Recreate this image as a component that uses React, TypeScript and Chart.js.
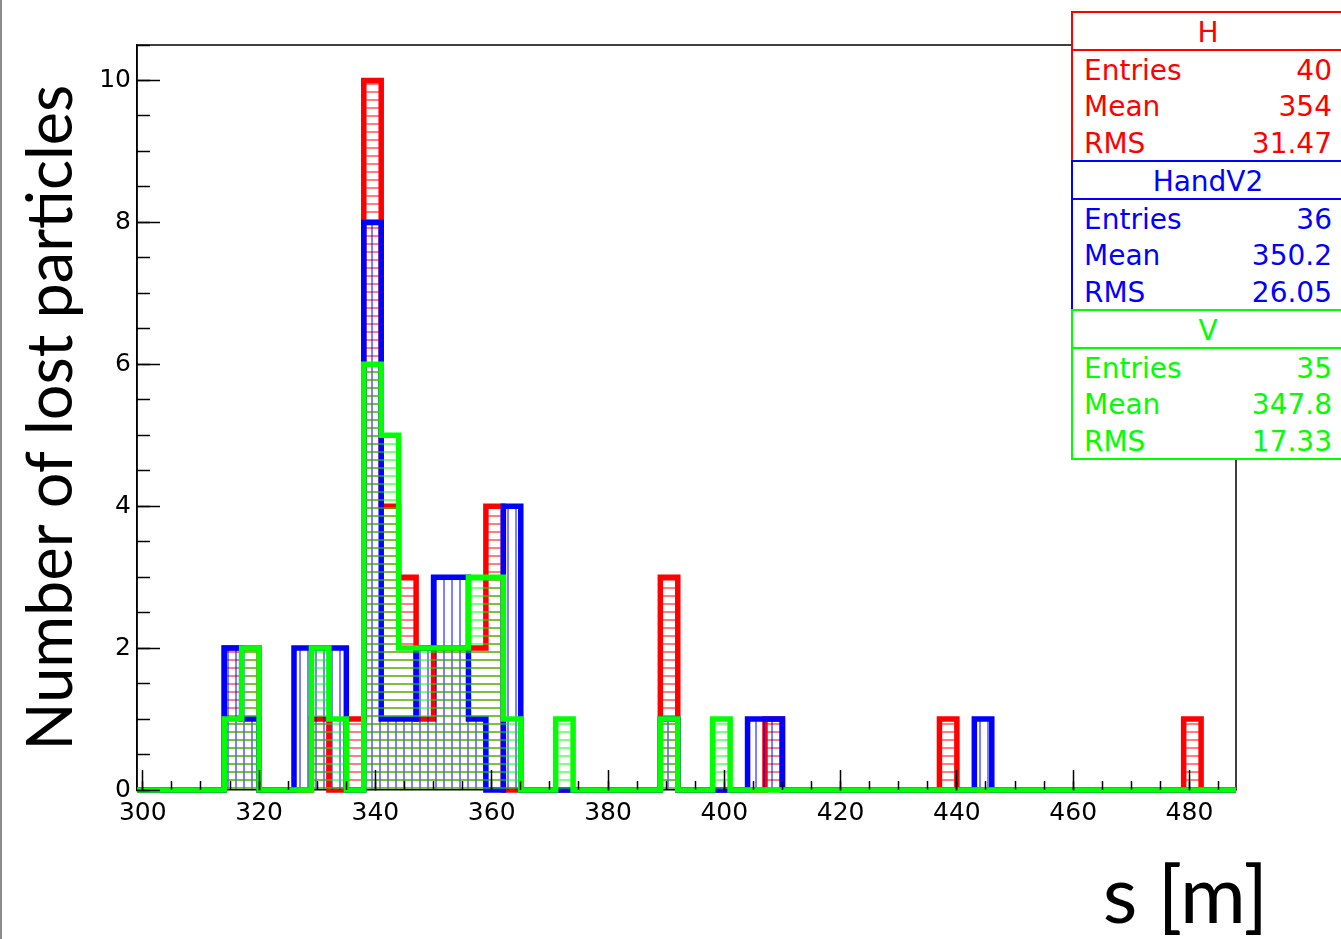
import React, { useEffect, useRef } from 'react';
import { Chart, registerables } from 'chart.js';

Chart.register(...registerables);

const X_MIN = 299;
const X_MAX = 488;
const Y_MAX = 10.5;

// lower edges of the 63 bins (3 m wide)
const binLowEdges = [
  299, 302, 305, 308, 311, 314, 317, 320, 323, 326,
  329, 332, 335, 338, 341, 344, 347, 350, 353, 356,
  359, 362, 365, 368, 371, 374, 377, 380, 383, 386,
  389, 392, 395, 398, 401, 404, 407, 410, 413, 416,
  419, 422, 425, 428, 431, 434, 437, 440, 443, 446,
  449, 452, 455, 458, 461, 464, 467, 470, 473, 476,
  479, 482, 485,
];

const countsH = [
  0, 0, 0, 0, 0, 2, 2, 0, 0, 0,
  1, 0, 1, 10, 4, 3, 1, 2, 2, 2,
  4, 0, 0, 0, 0, 0, 0, 0, 0, 0,
  3, 0, 0, 0, 0, 0, 1, 0, 0, 0,
  0, 0, 0, 0, 0, 0, 1, 0, 0, 0,
  0, 0, 0, 0, 0, 0, 0, 0, 0, 0,
  1, 0, 0,
];

const countsHandV2 = [
  0, 0, 0, 0, 0, 2, 1, 0, 0, 2,
  2, 2, 0, 8, 1, 1, 2, 3, 3, 1,
  0, 4, 0, 0, 0, 0, 0, 0, 0, 0,
  1, 0, 0, 0, 0, 1, 1, 0, 0, 0,
  0, 0, 0, 0, 0, 0, 0, 0, 1, 0,
  0, 0, 0, 0, 0, 0, 0, 0, 0, 0,
  0, 0, 0,
];

const countsV = [
  0, 0, 0, 0, 0, 1, 2, 0, 0, 0,
  2, 1, 0, 6, 5, 2, 2, 2, 2, 3,
  3, 1, 0, 0, 1, 0, 0, 0, 0, 0,
  1, 0, 0, 1, 0, 0, 0, 0, 0, 0,
  0, 0, 0, 0, 0, 0, 0, 0, 0, 0,
  0, 0, 0, 0, 0, 0, 0, 0, 0, 0,
  0, 0, 0,
];

const xMajorTicks = [300, 320, 340, 360, 380, 400, 420, 440, 460, 480];
const xTickLabels = ['300', '320', '340', '360', '380', '400', '420', '440', '460', '480'];
const xMinorTicks = [
  300, 305, 310, 315, 320, 325, 330, 335, 340, 345, 350, 355, 360, 365, 370, 375, 380, 385, 390,
  395, 400, 405, 410, 415, 420, 425, 430, 435, 440, 445, 450, 455, 460, 465, 470, 475, 480, 485,
];
const yMajorTicks = [0, 2, 4, 6, 8, 10];
const yTickLabels = ['0', '2', '4', '6', '8', '10'];
const yMinorTicks = [
  0, 0.5, 1, 1.5, 2, 2.5, 3, 3.5, 4, 4.5, 5, 5.5, 6, 6.5, 7, 7.5, 8, 8.5, 9, 9.5, 10, 10.5,
];

const statNames = ['H', 'HandV2', 'V'];
const statEntries = ['40', '36', '35'];
const statMeans = ['354', '350.2', '347.8'];
const statRms = ['31.47', '26.05', '17.33'];
const seriesColors = ['#ff0000', '#0000ff', '#00ff00'];
const hatchColors = ['rgba(255,0,0,0.5)', 'rgba(0,0,255,0.5)', 'rgba(0,255,0,0.5)'];

function makeHatch(color: string, vertical: boolean): CanvasPattern | string {
  const c = document.createElement('canvas');
  c.width = 8;
  c.height = 8;
  const g = c.getContext('2d');
  if (!g) return color;
  g.fillStyle = color;
  if (vertical) g.fillRect(3, 0, 2, 8);
  else g.fillRect(0, 3, 8, 2);
  return g.createPattern(c, 'repeat') || color;
}

function stepPoints(counts: number[]) {
  const pts = binLowEdges.map((e, i) => ({ x: e, y: counts[i] }));
  pts.push({ x: X_MAX, y: counts[counts.length - 1] });
  return pts;
}

const framePlugin = {
  id: 'frame',
  beforeDatasetsDraw(chart: any) {
    const { ctx, chartArea } = chart;
    const { left, top, right, bottom } = chartArea;
    ctx.save();
    ctx.strokeStyle = '#000';
    ctx.lineWidth = 1.5;
    ctx.beginPath();
    ctx.moveTo(left, bottom);
    ctx.lineTo(left, top);
    ctx.lineTo(right, top);
    ctx.lineTo(right, bottom);
    ctx.stroke();
    ctx.restore();
  },
};

export default function App() {
  const ref = useRef<HTMLCanvasElement | null>(null);

  useEffect(() => {
    if (!ref.current) return;
    const series = [
      { label: 'H', counts: countsH, vertical: false, order: 2 },
      { label: 'HandV2', counts: countsHandV2, vertical: true, order: 1 },
      { label: 'V', counts: countsV, vertical: false, order: 0 },
    ];
    const datasets = series.map((s, i) => ({
      label: s.label,
      data: stepPoints(s.counts),
      stepped: true,
      borderColor: seriesColors[i],
      borderWidth: 5.5,
      borderJoinStyle: 'miter',
      borderCapStyle: 'butt',
      backgroundColor: makeHatch(hatchColors[i], s.vertical),
      fill: 'origin',
      pointRadius: 0,
      pointHoverRadius: 0,
      order: s.order,
      clip: false,
    }));

    const tickFont = { family: 'DejaVu Sans', size: 25 };

    const chart = new Chart(ref.current, {
      type: 'line',
      data: { datasets: datasets as any },
      plugins: [framePlugin],
      options: {
        animation: false,
        responsive: false,
        layout: { padding: { left: 0, top: 45, right: 105, bottom: 0 } },
        plugins: {
          legend: { display: false },
          tooltip: { enabled: false },
        },
        scales: {
          x: {
            type: 'linear',
            position: 'bottom',
            weight: 1,
            min: X_MIN,
            max: X_MAX,
            afterBuildTicks: (s: any) => {
              s.ticks = xMajorTicks.map((v) => ({ value: v }));
            },
            afterFit: (s: any) => {
              s.height = 149;
            },
            ticks: {
              callback: (v: any) => {
                const k = xMajorTicks.indexOf(Number(v));
                return k >= 0 ? xTickLabels[k] : '';
              },
              font: tickFont,
              color: '#000',
              padding: 28,
              maxRotation: 0,
              autoSkip: false,
            },
            grid: {
              drawOnChartArea: false,
              drawTicks: true,
              tickLength: -20,
              tickColor: '#000',
              tickWidth: 1.5,
              z: 1,
            },
            border: { display: true, color: '#000', width: 1.5 },
          },
          xMinor: {
            type: 'linear',
            position: 'bottom',
            weight: 0,
            min: X_MIN,
            max: X_MAX,
            afterBuildTicks: (s: any) => {
              s.ticks = xMinorTicks.map((v) => ({ value: v }));
            },
            afterFit: (s: any) => {
              s.height = 0;
            },
            ticks: { display: false, autoSkip: false },
            grid: {
              drawOnChartArea: false,
              drawTicks: true,
              tickLength: -9,
              tickColor: '#000',
              tickWidth: 1.5,
              z: 1,
            },
            border: { display: false },
          },
          y: {
            type: 'linear',
            position: 'left',
            weight: 1,
            min: 0,
            max: Y_MAX,
            afterBuildTicks: (s: any) => {
              s.ticks = yMajorTicks.map((v) => ({ value: v }));
            },
            afterFit: (s: any) => {
              s.width = 137;
            },
            ticks: {
              callback: (v: any) => {
                const k = yMajorTicks.indexOf(Number(v));
                return k >= 0 ? yTickLabels[k] : '';
              },
              font: tickFont,
              color: '#000',
              padding: 29,
              autoSkip: false,
            },
            grid: {
              drawOnChartArea: false,
              drawTicks: true,
              tickLength: -23,
              tickColor: '#000',
              tickWidth: 1.5,
              z: 1,
            },
            border: { display: true, color: '#000', width: 1.5 },
            title: {
              display: true,
              text: 'Number of lost particles',
              font: { family: 'Lato', size: 63 },
              color: '#000',
              padding: { top: 14, bottom: 0 },
            },
          },
          yMinor: {
            type: 'linear',
            position: 'left',
            weight: 0,
            min: 0,
            max: Y_MAX,
            afterBuildTicks: (s: any) => {
              s.ticks = yMinorTicks.map((v) => ({ value: v }));
            },
            afterFit: (s: any) => {
              s.width = 0;
            },
            ticks: { display: false, autoSkip: false },
            grid: {
              drawOnChartArea: false,
              drawTicks: true,
              tickLength: -13,
              tickColor: '#000',
              tickWidth: 1.5,
              z: 1,
            },
            border: { display: false },
          },
        },
      } as any,
    });

    const fonts = (document as any).fonts;
    if (fonts && fonts.ready) {
      fonts.ready.then(() => {
        try {
          chart.update();
        } catch (e) {
          /* chart destroyed */
        }
      });
    }

    return () => {
      chart.destroy();
    };
  }, []);

  const rowH = 36.33;

  return (
    <div
      style={{
        position: 'absolute',
        left: 0,
        top: 0,
        width: 1341,
        height: 939,
        overflow: 'hidden',
        background: '#fff',
      }}
    >
      <canvas ref={ref} width={1341} height={939} style={{ position: 'absolute', left: 0, top: 0 }} />
      <div style={{ position: 'absolute', left: 0, top: 0, width: 2, height: 939, background: '#8c8c8c' }} />
      {statNames.map((name, i) => {
        const col = seriesColors[i];
        const rows = [
          ['Entries', statEntries[i]],
          ['Mean', statMeans[i]],
          ['RMS', statRms[i]],
        ];
        return (
          <div
            key={name}
            style={{
              position: 'absolute',
              left: 1071,
              top: 11 + i * 149,
              width: 272,
              height: i === 2 ? 151 : 149,
              boxSizing: 'border-box',
              borderTop: `2px solid ${col}`,
              borderLeft: `2px solid ${col}`,
              borderBottom: i === 2 ? `2px solid ${col}` : 'none',
              background: '#fff',
              color: col,
              fontFamily: '"DejaVu Sans", sans-serif',
              fontSize: 28,
            }}
          >
            <div
              style={{
                height: 36,
                lineHeight: '40px',
                textAlign: 'center',
                borderBottom: `2px solid ${col}`,
                whiteSpace: 'nowrap',
                overflow: 'hidden',
              }}
            >
              {name}
            </div>
            {rows.map(([k, v]) => (
              <div
                key={k}
                style={{
                  height: rowH,
                  lineHeight: `${rowH + 3}px`,
                  display: 'flex',
                  justifyContent: 'space-between',
                  paddingLeft: 11,
                  paddingRight: 11,
                  whiteSpace: 'nowrap',
                }}
              >
                <span>{k}</span>
                <span>{v}</span>
              </div>
            ))}
          </div>
        );
      })}
      <div
        style={{
          position: 'absolute',
          right: 73,
          top: 852,
          fontFamily: 'Lato, sans-serif',
          fontSize: 80,
          lineHeight: '80px',
          color: '#000',
          whiteSpace: 'nowrap',
        }}
      >
        s [m]
      </div>
    </div>
  );
}
